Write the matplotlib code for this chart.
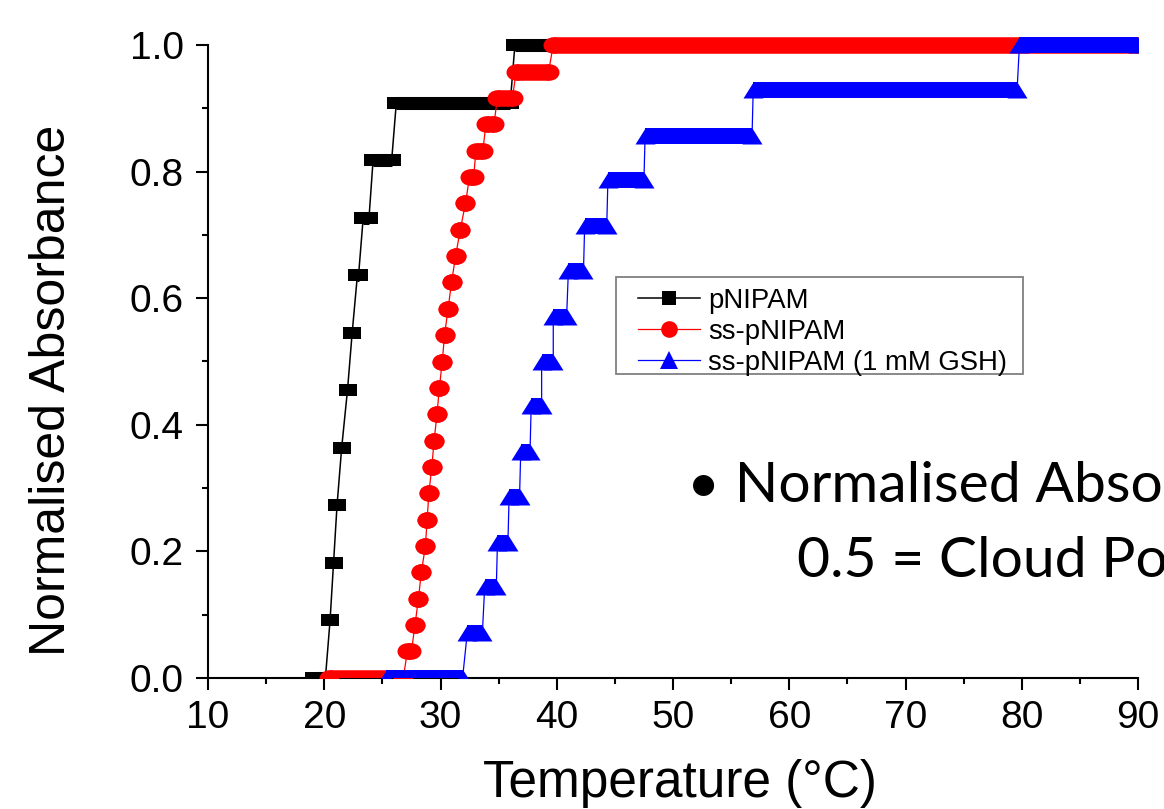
import numpy as np
import matplotlib
matplotlib.use('Agg')
import matplotlib.pyplot as plt
from matplotlib.path import Path
from matplotlib.lines import Line2D
from matplotlib.patches import Rectangle
from matplotlib.ticker import MultipleLocator, FormatStrFormatter

plt.rcParams['font.family'] = ['Liberation Sans', 'DejaVu Sans']

# each step of a curve: absorbance level, first and last temperature read at that level
pnipam_level = [0.0, 0.091, 0.182, 0.273, 0.364, 0.455, 0.545, 0.636, 0.727, 0.818, 0.909, 1.0]
pnipam_t0 = [19.1, 20.5, 20.8, 21.1, 21.5, 22.0, 22.4, 22.85, 23.35, 24.2, 26.2, 36.4]
pnipam_t1 = [20.1, 20.5, 20.8, 21.1, 21.5, 22.0, 22.4, 22.95, 23.85, 25.8, 36.0, 90.0]

ss_level = [0.0, 0.042, 0.083, 0.125, 0.167, 0.208, 0.25, 0.292, 0.333, 0.375, 0.417, 0.458, 0.5,
            0.542, 0.583, 0.625, 0.667, 0.708, 0.75, 0.792, 0.833, 0.875, 0.917, 0.958, 1.0]
ss_t0 = [20.4, 27.15, 27.8, 28.1, 28.35, 28.7, 28.85, 29.0, 29.25, 29.45, 29.7, 29.9, 30.15,
         30.35, 30.65, 30.95, 31.3, 31.7, 32.15, 32.5, 33.05, 33.9, 34.9, 36.5, 39.7]
ss_t1 = [26.8, 27.5, 27.8, 28.1, 28.35, 28.7, 28.85, 29.0, 29.25, 29.45, 29.7, 29.9, 30.15,
         30.35, 30.65, 30.95, 31.3, 31.7, 32.15, 32.85, 33.65, 34.6, 36.2, 39.3, 90.0]

gsh_level = [0.0, 0.071, 0.143, 0.214, 0.286, 0.357, 0.429, 0.5, 0.571, 0.643, 0.714, 0.786,
             0.857, 0.929, 1.0]
gsh_t0 = [25.3, 32.3, 33.8, 34.9, 35.9, 36.9, 37.8, 38.7, 39.7, 41.0, 42.4, 44.4, 47.6, 56.9, 79.8]
gsh_t1 = [31.9, 33.6, 34.8, 35.8, 36.8, 37.7, 38.7, 39.7, 40.85, 42.3, 44.3, 47.5, 56.8, 79.6, 90.0]

labels = ['pNIPAM', 'ss-pNIPAM', 'ss-pNIPAM (1 mM GSH)']

# wide markers (the original graph was stretched sideways)
sq = Path([(-1, -0.72), (1, -0.72), (1, 0.72), (-1, 0.72), (-1, -0.72)],
          [Path.MOVETO, Path.LINETO, Path.LINETO, Path.LINETO, Path.CLOSEPOLY])
uc = Path.unit_circle()
ell = Path(uc.vertices * [1, 0.825], uc.codes)
tri = Path([(0, 0.8), (-1, -0.8), (1, -0.8), (0, 0.8)],
           [Path.MOVETO, Path.LINETO, Path.LINETO, Path.CLOSEPOLY])


def draw_steps(ax, t0, t1, level, color, mk, ms, bar_lw, lw, z):
    xs, ys = [], []
    for a, b, y in zip(t0, t1, level):
        xs += [a, b]
        ys += [y, y]
    ax.plot(xs, ys, color=color, lw=lw, zorder=z)
    for a, b, y in zip(t0, t1, level):
        ax.plot([a, b], [y, y], color=color, lw=bar_lw, solid_capstyle='butt', zorder=z)
        ax.plot([a, b], [y, y], ls='none', marker=mk, ms=ms, mfc=color, mec=color, mew=0, zorder=z)


fig = plt.figure(figsize=(11.64, 8.09), dpi=100)
ax = fig.add_axes([208 / 1164, 1 - 678 / 809, 930 / 1164, 664.65 / 809])

draw_steps(ax, pnipam_t0, pnipam_t1, pnipam_level, 'black', sq, 12.96, 9.4, 1.1, 2)
draw_steps(ax, ss_t0, ss_t1, ss_level, '#ff0000', ell, 14.4, 11.9, 0.9, 3)
draw_steps(ax, gsh_t0, gsh_t1, gsh_level, '#0000ff', tri, 14.4, 11.5, 0.9, 4)

ax.set_xlim(10, 90)
ax.set_ylim(0, 1.05)
ax.spines['top'].set_visible(False)
ax.spines['right'].set_visible(False)
ax.spines['left'].set_bounds(0, 1.0)
for s in ['left', 'bottom']:
    ax.spines[s].set_linewidth(1.5)

ax.xaxis.set_major_locator(MultipleLocator(10))
ax.xaxis.set_minor_locator(MultipleLocator(5))
ax.yaxis.set_major_locator(MultipleLocator(0.2))
ax.yaxis.set_minor_locator(MultipleLocator(0.1))
ax.yaxis.set_major_formatter(FormatStrFormatter('%.1f'))
ax.tick_params(which='major', direction='out', length=8.6, width=1.5, labelsize=28)
ax.tick_params(which='minor', direction='out', length=4.5, width=1.5)
ax.tick_params(axis='y', which='major', pad=9)
ax.tick_params(axis='x', which='major', pad=7)

ax.set_xlabel('Temperature (°C)', fontsize=37)
ax.set_ylabel('Normalised Absorbance', fontsize=36)
ax.xaxis.set_label_coords(0.5075, -0.122)
ax.yaxis.set_label_coords(-0.143, 0.433)

handles = [
    Line2D([], [], color='black', lw=1.1, marker='s', ms=10, mew=0),
    Line2D([], [], color='#ff0000', lw=0.9, marker='o', ms=12, mew=0),
    Line2D([], [], color='#0000ff', lw=0.9, marker='^', ms=13, mew=0),
]
leg = fig.legend(handles, labels, loc='upper left', bbox_to_anchor=(638 / 1164, 1 - 288 / 809),
                 fontsize=19.8, frameon=False, handlelength=2.25, handletextpad=0.29,
                 labelspacing=0.18, borderpad=0, borderaxespad=0)
# legend frame drawn on its own so its padding matches the original box
fig.patches.append(Rectangle((616 / 1164, 1 - 374 / 809), 407 / 1164, 97 / 809,
                             transform=fig.transFigure, fill=False, edgecolor='#808080',
                             linewidth=1.3, zorder=5))

# slide bullet text next to the chart, cut by the picture edge
fig.text(687 / 1164, 1 - 502 / 809, '• Normalised Absorbance', fontsize=41,
         family=['Lato', 'DejaVu Sans'], va='baseline', ha='left')
fig.text(797 / 1164, 1 - 577 / 809, '0.5 = Cloud Point', fontsize=41,
         family=['Lato', 'DejaVu Sans'], va='baseline', ha='left')

fig.savefig('out.png', dpi=100)
